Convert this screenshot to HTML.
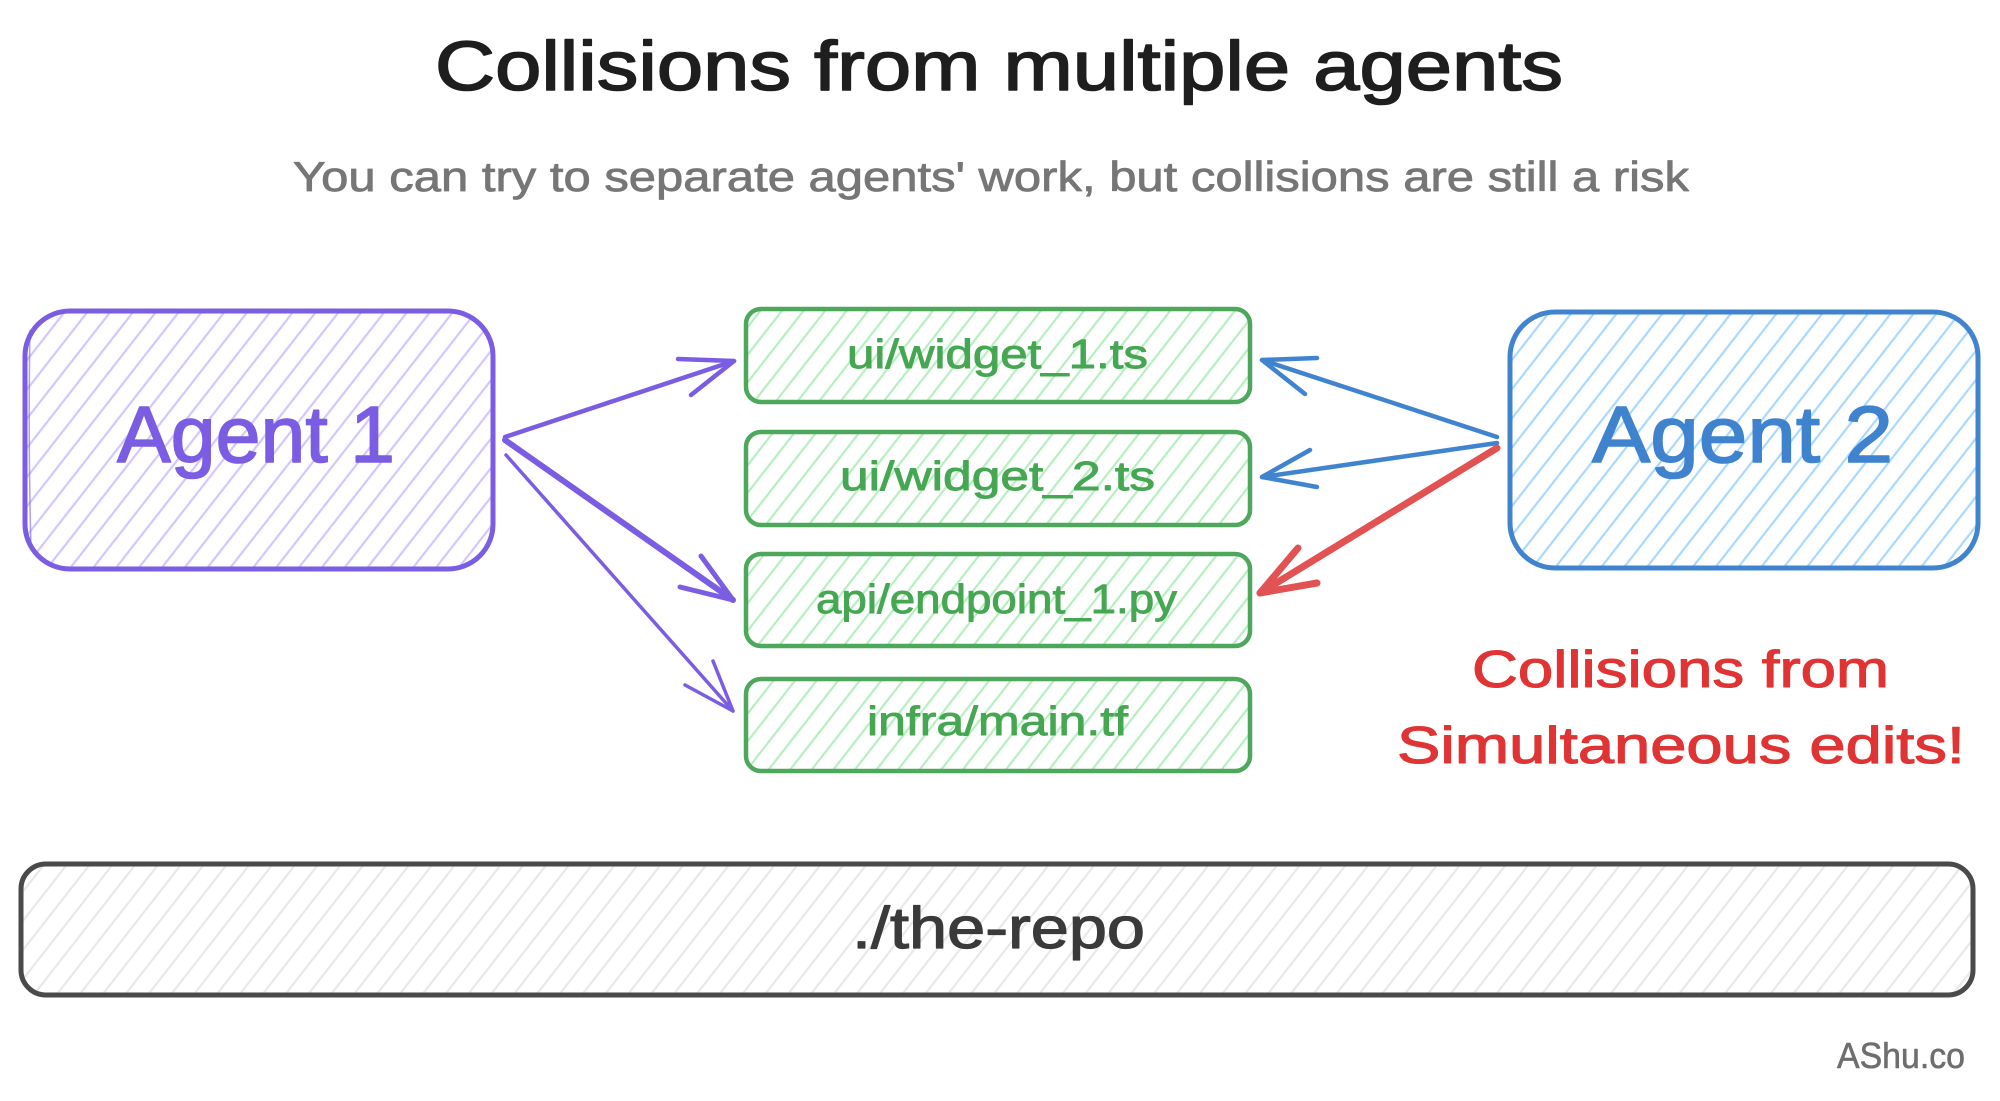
<!DOCTYPE html>
<html>
<head>
<meta charset="utf-8">
<style>
  html, body { margin: 0; padding: 0; background: #ffffff; }
  body { width: 2000px; height: 1101px; overflow: hidden; }
  svg { display: block; }
  text { font-family: "Liberation Sans", "DejaVu Sans", sans-serif; stroke-linejoin: round; }
</style>
</head>
<body>
<svg width="2000" height="1101" viewBox="0 0 2000 1101" xmlns="http://www.w3.org/2000/svg">
  <defs>
    <pattern id="hPurple" patternUnits="userSpaceOnUse" width="18" height="18" patternTransform="rotate(38)">
      <line x1="9" y1="0" x2="9" y2="18" stroke="#d3c6ff" stroke-width="2.2"/>
    </pattern>
    <pattern id="hGreen" patternUnits="userSpaceOnUse" width="17" height="17" patternTransform="rotate(38)">
      <line x1="8.5" y1="0" x2="8.5" y2="17" stroke="#b6efbf" stroke-width="2.2"/>
    </pattern>
    <pattern id="hBlue" patternUnits="userSpaceOnUse" width="18" height="18" patternTransform="rotate(38)">
      <line x1="9" y1="0" x2="9" y2="18" stroke="#a8d8ff" stroke-width="2.2"/>
    </pattern>
    <pattern id="hGray" patternUnits="userSpaceOnUse" width="18" height="18" patternTransform="rotate(38)">
      <line x1="9" y1="0" x2="9" y2="18" stroke="#e6e9ec" stroke-width="2.2"/>
    </pattern>
  </defs>

  <rect x="0" y="0" width="2000" height="1101" fill="#ffffff"/>

  <!-- Title -->
  <text x="435" y="90" font-size="70" fill="#1e1e1e" stroke="#1e1e1e" stroke-width="1.6" textLength="1128" lengthAdjust="spacingAndGlyphs">Collisions from multiple agents</text>
  <!-- Subtitle -->
  <text x="293" y="191" font-size="42" fill="#767676" stroke="#767676" stroke-width="0.8" textLength="1396" lengthAdjust="spacingAndGlyphs">You can try to separate agents' work, but collisions are still a risk</text>

  <!-- Agent 1 -->
  <rect x="25" y="311" width="468" height="258" rx="45" ry="45" fill="url(#hPurple)"/>
  <rect x="25" y="311" width="468" height="258" rx="45" ry="45" fill="none" stroke="#7a5de2" stroke-width="5"/>
  <path d="M30 330 Q28 440 31 548" fill="none" stroke="#7a5de2" stroke-width="1.5" opacity="0.6"/>
  <text x="117" y="462" font-size="80" fill="#7a5de2" stroke="#7a5de2" stroke-width="1.6" textLength="278" lengthAdjust="spacingAndGlyphs">Agent 1</text>

  <!-- Agent 2 -->
  <rect x="1510" y="312" width="468" height="256" rx="45" ry="45" fill="url(#hBlue)"/>
  <rect x="1510" y="312" width="468" height="256" rx="45" ry="45" fill="none" stroke="#4084cf" stroke-width="5"/>
  <text x="1592" y="462" font-size="80" fill="#3f83cf" stroke="#3f83cf" stroke-width="1.6" textLength="301" lengthAdjust="spacingAndGlyphs">Agent 2</text>

  <!-- Green file boxes -->
  <g>
    <rect x="746" y="309" width="504" height="93" rx="15" ry="15" fill="url(#hGreen)"/>
    <rect x="746" y="309" width="504" height="93" rx="15" ry="15" fill="none" stroke="#4ea85c" stroke-width="4.5"/>
    <text x="847" y="368" font-size="41" fill="#46a753" stroke="#46a753" stroke-width="0.9" textLength="301" lengthAdjust="spacingAndGlyphs">ui/widget_1.ts</text>

    <rect x="746" y="432" width="504" height="93" rx="15" ry="15" fill="url(#hGreen)"/>
    <rect x="746" y="432" width="504" height="93" rx="15" ry="15" fill="none" stroke="#4ea85c" stroke-width="4.5"/>
    <text x="840" y="490" font-size="41" fill="#46a753" stroke="#46a753" stroke-width="0.9" textLength="315" lengthAdjust="spacingAndGlyphs">ui/widget_2.ts</text>

    <rect x="746" y="554" width="504" height="92" rx="15" ry="15" fill="url(#hGreen)"/>
    <rect x="746" y="554" width="504" height="92" rx="15" ry="15" fill="none" stroke="#4ea85c" stroke-width="4.5"/>
    <text x="816" y="613" font-size="41" fill="#46a753" stroke="#46a753" stroke-width="0.9" textLength="361" lengthAdjust="spacingAndGlyphs">api/endpoint_1.py</text>

    <rect x="746" y="679" width="504" height="92" rx="15" ry="15" fill="url(#hGreen)"/>
    <rect x="746" y="679" width="504" height="92" rx="15" ry="15" fill="none" stroke="#4ea85c" stroke-width="4.5"/>
    <text x="867" y="735" font-size="41" fill="#46a753" stroke="#46a753" stroke-width="0.9" textLength="261" lengthAdjust="spacingAndGlyphs">infra/main.tf</text>
  </g>

  <!-- Agent 1 arrows -->
  <g fill="none" stroke="#7a5de2" stroke-linecap="round" stroke-linejoin="round">
    <path d="M505 437 L734 361" stroke-width="4.5"/>
    <path d="M678 359 L734 361 L691 395" stroke-width="4.5"/>
    <path d="M505 440 L733 600" stroke-width="6"/>
    <path d="M680 587 L733 600 L701 556" stroke-width="5"/>
    <path d="M506 455 L733 711" stroke-width="3.5"/>
    <path d="M685 685 L733 711 L713 661" stroke-width="3.5"/>
  </g>

  <!-- Agent 2 arrows -->
  <g fill="none" stroke-linecap="round" stroke-linejoin="round">
    <path d="M1497 437 L1262 360" stroke="#4084cf" stroke-width="4.5"/>
    <path d="M1317 358 L1262 360 L1305 394" stroke="#4084cf" stroke-width="4.5"/>
    <path d="M1497 443 L1262 477" stroke="#4084cf" stroke-width="4.5"/>
    <path d="M1310 450 L1262 477 L1317 487" stroke="#4084cf" stroke-width="4.5"/>
    <path d="M1497 448 L1260 593" stroke="#e35252" stroke-width="7"/>
    <path d="M1298 548 L1260 593 L1317 583" stroke="#e35252" stroke-width="7"/>
  </g>

  <!-- Red note -->
  <text x="1472" y="687" font-size="52" fill="#e03434" stroke="#e03434" stroke-width="1.1" textLength="417" lengthAdjust="spacingAndGlyphs">Collisions from</text>
  <text x="1397" y="763" font-size="52" fill="#e03434" stroke="#e03434" stroke-width="1.1" textLength="568" lengthAdjust="spacingAndGlyphs">Simultaneous edits!</text>

  <!-- Repo box -->
  <rect x="21" y="864" width="1952" height="131" rx="25" ry="25" fill="url(#hGray)"/>
  <rect x="21" y="864" width="1952" height="131" rx="25" ry="25" fill="none" stroke="#4a4a4a" stroke-width="5"/>
  <text x="852" y="948" font-size="58" fill="#3a3a3a" stroke="#3a3a3a" stroke-width="1.2" textLength="293" lengthAdjust="spacingAndGlyphs">./the-repo</text>

  <!-- Signature -->
  <text x="1837" y="1068" font-size="36" fill="#6e6e6e" stroke="#6e6e6e" stroke-width="0.6" textLength="128" lengthAdjust="spacingAndGlyphs">AShu.co</text>
</svg>
</body>
</html>
